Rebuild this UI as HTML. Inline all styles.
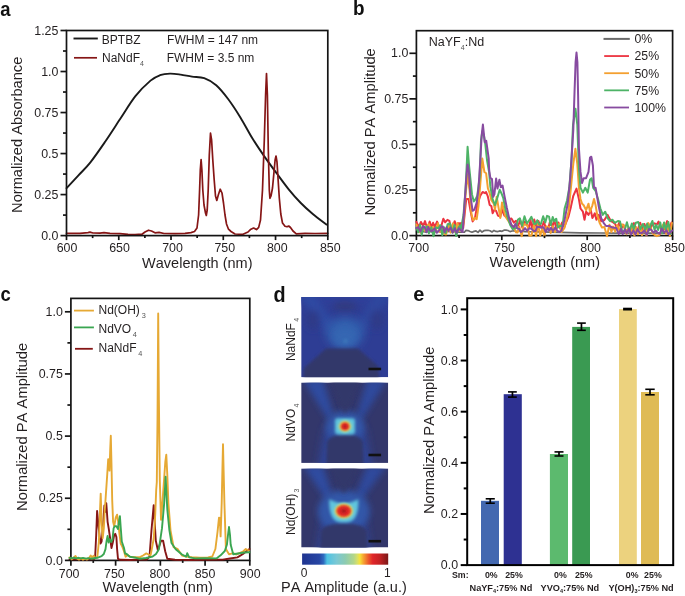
<!DOCTYPE html>
<html><head><meta charset="utf-8"><style>
html,body{margin:0;padding:0;background:#fff;}
body{width:685px;height:596px;overflow:hidden;}
svg{display:block;font-family:"Liberation Sans", sans-serif;font-kerning:none;}
text{opacity:0.999;}
</style></head><body>
<svg width="685" height="596" viewBox="0 0 685 596">
<rect width="685" height="596" fill="#fff"/>
<path d="M66.6,188.2 C68.5,186.13 74.07,180.07 78,175.8 C81.93,171.53 85.65,168.32 90.2,162.6 C94.75,156.88 100.28,148.8 105.3,141.5 C110.32,134.2 115.28,126.35 120.3,118.8 C125.32,111.25 130.37,102.57 135.4,96.2 C140.43,89.83 146.4,84.1 150.5,80.6 C154.6,77.1 156.75,76.37 160,75.2 C163.25,74.03 166.55,73.7 170,73.6 C173.45,73.5 177.03,74.1 180.7,74.6 C184.37,75.1 188.08,76.02 192,76.6 C195.92,77.18 200.17,76.67 204.2,78.1 C208.23,79.53 212.18,81.68 216.2,85.2 C220.22,88.72 224.27,93.83 228.3,99.2 C232.33,104.57 236.37,110.85 240.4,117.4 C244.43,123.95 248.48,131.97 252.5,138.5 C256.52,145.03 260.48,150.82 264.5,156.6 C268.52,162.38 272.57,167.75 276.6,173.2 C280.63,178.65 284.67,184.33 288.7,189.3 C292.73,194.27 296.78,198.88 300.8,203 C304.82,207.12 308.53,210.4 312.8,214 C317.07,217.6 324.13,222.83 326.4,224.6" fill="none" stroke="#1a1a1a" stroke-width="1.9" stroke-linejoin="round" stroke-linecap="round"/>
<path d="M66.5,233.4 L80,233.4 L88,232.6 L90,232.1 L93,233 L100,233.1 L104,232.6 L110,233.3 L120,233.6 L128,234.3 L135,234.5 L142,234.2 L145,232 L148.5,230.2 L151.5,231 L155,232.8 L159,232.3 L164,233.5 L175,233.6 L185,233.3 L191,232.6 L194.5,231.5 L197,228 L198.6,215 L199.6,190 L200.3,170 L201.1,159.6 L201.9,170 L202.8,190 L204,205 L205.5,213 L206.3,215.5 L207.2,210 L208.2,190 L209.3,155 L210.5,133.1 L211.6,140 L212.8,160 L214.2,180 L215.5,196 L216.8,200.4 L218.3,195 L220.2,189.2 L222,193 L223.5,203 L225,215 L226.5,224 L228.5,229.2 L231,231.5 L235,234 L243,234.3 L248,232 L250.4,229.6 L253.6,228 L256.5,229.6 L258.7,227.4 L260.5,220 L262.5,190 L264.3,140 L265.6,95 L266.5,73.6 L267.4,95 L268.3,150 L269.3,190 L269.9,198.3 L271,196 L272.5,188 L274,172 L275.1,160 L276,156 L277,162 L278,178 L279.3,198 L280.8,214 L282.5,223 L285,226.3 L287,226.8 L288.7,226 L290.5,227.5 L293,231 L296.3,233.8 L305,233.4 L315,233.5 L327.8,233.3" fill="none" stroke="#861616" stroke-width="1.7" stroke-linejoin="round" stroke-linecap="round"/>
<rect x="66.5" y="30.5" width="261.3" height="205.1" fill="none" stroke="#141414" stroke-width="1.7"/>
<line x1="60.5" y1="235.6" x2="66.5" y2="235.6" stroke="#141414" stroke-width="1.7" stroke-linecap="butt"/>
<text x="58.4" y="239.7" font-size="12.4" text-anchor="end" font-weight="normal" fill="#231f20">0.0</text>
<line x1="60.5" y1="194.58" x2="66.5" y2="194.58" stroke="#141414" stroke-width="1.7" stroke-linecap="butt"/>
<text x="58.4" y="198.68" font-size="12.4" text-anchor="end" font-weight="normal" fill="#231f20">0.25</text>
<line x1="60.5" y1="153.56" x2="66.5" y2="153.56" stroke="#141414" stroke-width="1.7" stroke-linecap="butt"/>
<text x="58.4" y="157.66" font-size="12.4" text-anchor="end" font-weight="normal" fill="#231f20">0.5</text>
<line x1="60.5" y1="112.54" x2="66.5" y2="112.54" stroke="#141414" stroke-width="1.7" stroke-linecap="butt"/>
<text x="58.4" y="116.64" font-size="12.4" text-anchor="end" font-weight="normal" fill="#231f20">0.75</text>
<line x1="60.5" y1="71.52" x2="66.5" y2="71.52" stroke="#141414" stroke-width="1.7" stroke-linecap="butt"/>
<text x="58.4" y="75.62" font-size="12.4" text-anchor="end" font-weight="normal" fill="#231f20">1.0</text>
<line x1="60.5" y1="30.5" x2="66.5" y2="30.5" stroke="#141414" stroke-width="1.7" stroke-linecap="butt"/>
<text x="58.4" y="34.6" font-size="12.4" text-anchor="end" font-weight="normal" fill="#231f20">1.25</text>
<line x1="63" y1="215.09" x2="66.5" y2="215.09" stroke="#141414" stroke-width="1.7" stroke-linecap="butt"/>
<line x1="63" y1="174.07" x2="66.5" y2="174.07" stroke="#141414" stroke-width="1.7" stroke-linecap="butt"/>
<line x1="63" y1="133.05" x2="66.5" y2="133.05" stroke="#141414" stroke-width="1.7" stroke-linecap="butt"/>
<line x1="63" y1="92.03" x2="66.5" y2="92.03" stroke="#141414" stroke-width="1.7" stroke-linecap="butt"/>
<line x1="63" y1="51.01" x2="66.5" y2="51.01" stroke="#141414" stroke-width="1.7" stroke-linecap="butt"/>
<line x1="66.5" y1="235.6" x2="66.5" y2="240.1" stroke="#141414" stroke-width="1.7" stroke-linecap="butt"/>
<text x="67" y="251.6" font-size="12.4" text-anchor="middle" font-weight="normal" fill="#231f20">600</text>
<line x1="118.76" y1="235.6" x2="118.76" y2="240.1" stroke="#141414" stroke-width="1.7" stroke-linecap="butt"/>
<text x="119.5" y="251.6" font-size="12.4" text-anchor="middle" font-weight="normal" fill="#231f20">650</text>
<line x1="171.02" y1="235.6" x2="171.02" y2="240.1" stroke="#141414" stroke-width="1.7" stroke-linecap="butt"/>
<text x="172.5" y="251.6" font-size="12.4" text-anchor="middle" font-weight="normal" fill="#231f20">700</text>
<line x1="223.28" y1="235.6" x2="223.28" y2="240.1" stroke="#141414" stroke-width="1.7" stroke-linecap="butt"/>
<text x="224.8" y="251.6" font-size="12.4" text-anchor="middle" font-weight="normal" fill="#231f20">750</text>
<line x1="275.54" y1="235.6" x2="275.54" y2="240.1" stroke="#141414" stroke-width="1.7" stroke-linecap="butt"/>
<text x="277.3" y="251.6" font-size="12.4" text-anchor="middle" font-weight="normal" fill="#231f20">800</text>
<line x1="327.8" y1="235.6" x2="327.8" y2="240.1" stroke="#141414" stroke-width="1.7" stroke-linecap="butt"/>
<text x="330.3" y="251.6" font-size="12.4" text-anchor="middle" font-weight="normal" fill="#231f20">850</text>
<line x1="92.63" y1="235.6" x2="92.63" y2="238.1" stroke="#141414" stroke-width="1.7" stroke-linecap="butt"/>
<line x1="144.89" y1="235.6" x2="144.89" y2="238.1" stroke="#141414" stroke-width="1.7" stroke-linecap="butt"/>
<line x1="197.15" y1="235.6" x2="197.15" y2="238.1" stroke="#141414" stroke-width="1.7" stroke-linecap="butt"/>
<line x1="249.41" y1="235.6" x2="249.41" y2="238.1" stroke="#141414" stroke-width="1.7" stroke-linecap="butt"/>
<line x1="301.67" y1="235.6" x2="301.67" y2="238.1" stroke="#141414" stroke-width="1.7" stroke-linecap="butt"/>
<text x="197.3" y="267.5" font-size="14.5" text-anchor="middle" font-weight="normal" fill="#231f20">Wavelength (nm)</text>
<text x="22" y="134.8" font-size="14.65" text-anchor="middle" font-weight="normal" fill="#231f20" transform="rotate(-90 22 134.8)">Normalized Absorbance</text>
<text x="0" y="0" font-size="21" text-anchor="start" font-weight="bold" fill="#111" transform="translate(0.3 15.6) scale(0.88 1)">a</text>
<line x1="73.5" y1="38.5" x2="97.8" y2="38.5" stroke="#1a1a1a" stroke-width="1.9" stroke-linecap="butt"/>
<text x="101.8" y="44" font-size="12" text-anchor="start" font-weight="normal" fill="#231f20">BPTBZ</text>
<text x="167.1" y="44" font-size="12" text-anchor="start" font-weight="normal" fill="#231f20">FWHM = 147 nm</text>
<line x1="74" y1="57.8" x2="97" y2="57.8" stroke="#861616" stroke-width="1.7" stroke-linecap="butt"/>
<text x="102" y="62.3" font-size="12" text-anchor="start" font-weight="normal" fill="#231f20">NaNdF<tspan font-size="7" dy="3.4" fill="#555">4</tspan></text>
<text x="166.7" y="62.1" font-size="12" text-anchor="start" font-weight="normal" fill="#231f20">FWHM = 3.5 nm</text>
<path d="M416.4,232 L420,231.62 L423,231.4 L426,232.05 L429,231.29 L432,231.9 L435,231.68 L438,231.28 L441,231.86 L444,231.25 L447,231.76 L450,231.29 L453,231.32 L456,231.75 L459,232.27 L464.4,232.2 L466,230.3 L468,230.54 L470,231.51 L472,232.27 L474,231.39 L476,230.95 L478,232.34 L480,230.11 L482,232.06 L484,230.7 L486,230.35 L488,230.28 L490,230.74 L492,231.96 L494,230.43 L496,231.4 L498,231.53 L500,230.89 L502,231.31 L504,230.15 L506,230.14 L508,230.49 L510,231.63 L512,231.03 L514,230.75 L516,231.41 L518,231.09 L520,230.72 L525,231.6 L540,231.8 L560,232.4 L580,232.8 L600,233 L620,233.1 L672,233.1" fill="none" stroke="#6a6a6a" stroke-width="1.7" stroke-linejoin="round" stroke-linecap="round"/>
<rect x="416.4" y="30.7" width="256.2" height="204.9" fill="none" stroke="#141414" stroke-width="1.7"/>
<path d="M416.4,221.82 L418.83,227.02 L420.96,221.96 L423.13,225.78 L425,221.07 L427.22,228.45 L429.69,221.65 L431.43,227.09 L433.09,222.77 L434.72,226.82 L437.07,221.56 L439.12,226.59 L440.97,227.04 L443.33,218.75 L445.14,222.25 L447.43,219.87 L449.37,220.8 L450.97,228.21 L453,226.69 L454.66,221.16 L456.51,226.5 L458.97,223.15 L460.8,225.68 L461,223 L463.2,228 L464.6,215 L466.2,199.1 L468.5,199.1 L470.3,209.7 L472.6,221.4 L475,217.9 L477.3,205 L480.3,195.6 L482.6,192 L485,193.2 L486.1,192 L487.9,196.7 L489.7,205 L491.4,206.1 L492.6,213.2 L494.4,209.7 L496.1,210.8 L497.9,215.5 L500.3,216.7 L502,209.7 L504.4,215.5 L506.7,216.7 L509.1,219.1 L511.4,218.5 L513.8,222.6 L516,220.78 L518.2,225.79 L520.14,220.21 L522.36,227.84 L524.55,221.6 L526.3,223.03 L528.64,228.33 L530.54,220.09 L532.16,229.18 L534.21,219.55 L536.67,227.34 L538.39,220.92 L540.14,225.94 L541.89,227.25 L543.87,221.46 L545.81,228.47 L548.28,228.24 L550.2,220.66 L552.41,226.63 L554.34,220.21 L556.39,228.83 L558.37,222.42 L560.36,228.64 L562.05,222.58 L564.28,226.79 L568.5,216.5 L570.9,206.9 L573.3,195.8 L576.5,188.6 L578.9,199 L580.5,208.5 L582.9,211.7 L584.5,219.7 L586.1,211.7 L588.5,214.9 L590.8,210.1 L592.4,218.1 L594.8,213.3 L596.4,219.7 L598.8,214.9 L601.2,221.2 L604.4,220 L607.6,214.9 L610.8,221 L613,222.18 L615.22,224.05 L617.02,228.09 L619.28,222.76 L621.08,228.87 L623.43,224.7 L625.28,230.52 L627.61,230.35 L629.88,230.23 L631.71,229.08 L633.99,223.14 L635.92,228.43 L637.62,230.24 L640.11,222.67 L642.38,229.79 L644.38,223.99 L646.45,228.97 L648.6,224.26 L650.64,228.13 L652.41,224.48 L654.6,223.29 L656.85,224.59 L658.57,221.61 L660.75,228.8 L663.13,230.26 L664.91,228.66 L667.16,221.11 L669.3,228.04 L671.46,222.53" fill="none" stroke="#ec3340" stroke-width="2.0" stroke-linejoin="round" stroke-linecap="round"/>
<path d="M416.4,224.4 L418.57,231.47 L420.88,232.81 L422.94,227.49 L424.87,230.81 L427.19,226.45 L428.83,224.18 L431.21,230.65 L433.11,226.98 L435.57,231.2 L437.9,223.32 L439.91,232.04 L441.95,227.33 L444.33,234.01 L446.11,234.52 L448.39,224.89 L450.65,232.64 L452.99,223.35 L455.39,232.14 L457.4,223.02 L459.35,230.92 L461,230 L463.5,222 L465.6,195 L467.6,174.3 L469.5,190 L471.5,214.4 L473.2,220.2 L475,217.9 L476.7,219.1 L478.5,206.1 L480.3,183.8 L482.3,158.6 L484.4,172 L486.1,173.2 L487.9,188.5 L489.7,193.2 L491.4,200.3 L493.8,203.8 L495,209.7 L496.7,196.7 L498.5,207.3 L500.3,217.9 L502,202.6 L503.8,209.7 L505.5,216.7 L507.9,220.2 L510.2,223.8 L513.8,227.3 L516,232.31 L517.62,232.52 L519.33,226.69 L521.73,236.3 L523.62,223.83 L525.83,224.92 L527.48,225.5 L529.36,235.77 L531.48,235.4 L533.95,224.97 L536.1,236.29 L537.98,223.72 L540.17,235.65 L542.37,228.14 L544.44,236.13 L546.5,226.38 L548.7,226.88 L550.63,233.07 L552.77,226.26 L554.97,232.05 L557.47,226.27 L559.43,223.73 L561.49,232.1 L564.6,227.6 L568.5,211.7 L570.9,187.8 L573.3,163.9 L575.4,148.8 L577.3,163.9 L578.9,187.8 L580.5,199 L582.1,203.7 L583.7,205.3 L586.1,210.1 L588.5,203.7 L590,211.7 L592.4,205.3 L594,199 L595.6,205.3 L597.2,214.9 L599.6,222.8 L602,227.6 L604.4,227 L607,236.23 L609.4,224.64 L611.38,231.93 L613.16,226.59 L615.17,231.7 L617.41,225.06 L619.67,231.55 L621.97,224.3 L624.13,225.85 L626.41,234.25 L628.61,227.3 L630.64,234.35 L632.64,226.79 L634.4,235.53 L636.17,227.23 L637.81,234.26 L640.15,225.81 L642.01,235.33 L644.1,227.19 L646.41,235.6 L648.22,222.93 L650.36,226.87 L652.83,233.44 L654.45,234.86 L656.93,236.23 L659.01,235.18 L660.93,233.23 L662.7,225.3 L664.48,222.76 L666.27,234.03 L668.02,223.48 L669.85,235.98 L671.85,223.07" fill="none" stroke="#f4a030" stroke-width="2.0" stroke-linejoin="round" stroke-linecap="round"/>
<path d="M416.4,227.83 L418.35,232.3 L420.05,224.68 L421.79,234.85 L423.51,226.19 L425.48,227.92 L427.1,226.41 L428.88,233.4 L431.34,227.32 L433.46,236.27 L435.82,227.38 L438.17,228.23 L440.43,225.2 L442.23,235.18 L444,227.31 L445.64,233.25 L447.6,224.3 L450.06,223.53 L452.37,232.48 L454.54,225.09 L456.22,236.11 L458.36,227.91 L460.32,225.21 L461,229 L463.5,215 L465.6,188.5 L467.6,146.8 L469,165 L470.3,177.9 L472,194.4 L473.8,201.4 L475.6,199.1 L477.3,195.6 L479.7,176.8 L481,140 L482.5,131 L484,136 L485.2,143.2 L487,160 L489.1,172 L490.3,186.2 L492.6,199.1 L495,205 L497.3,197.9 L499.7,189.7 L501.4,193.2 L503.2,197.9 L505.5,209.7 L507.9,217.9 L510.2,224.9 L512.6,229.1 L516.1,228 L518,219.54 L519.87,218.27 L522.12,225.79 L524.48,216.25 L526.87,223.5 L529.15,220.46 L531.41,216.74 L533.87,223.87 L535.58,224 L537.32,220.28 L538.96,224.22 L540.83,224.05 L543.17,216.3 L545.29,222.36 L547.09,215.84 L549.05,216.63 L550.71,225.14 L552.72,217.09 L554.37,221.28 L556.24,218.7 L557.88,227.57 L560.1,225.7 L562.56,226.28 L564.6,208.5 L567,200.5 L569.3,187.8 L571.5,160 L573,125 L575.5,108.8 L577.3,125 L578.9,168.7 L580.5,187.8 L582.9,192.6 L585.3,187.8 L587.7,192.6 L590,179.8 L591.6,178.2 L593.2,187.8 L595.6,191 L598,199 L600.4,208.5 L602.8,214.9 L605.2,211.7 L607.6,218.1 L610,221.2 L612.4,219.7 L614.7,222.8 L617.9,221 L620,221.57 L622.34,232.54 L624.74,229.92 L626.92,222.29 L629.39,231.38 L631.84,223.43 L633.72,229.17 L635.87,222.73 L638.23,222 L640.44,229.19 L642.92,223.92 L645.33,229.57 L647.22,223.59 L648.83,230.59 L650.78,224.51 L652.41,220.92 L654.52,229.71 L656.22,224.8 L658.07,229.96 L660.26,222.46 L662.18,233.29 L664.06,222.42 L666,229.5 L668.39,222.07 L670.38,233.88" fill="none" stroke="#4db366" stroke-width="2.0" stroke-linejoin="round" stroke-linecap="round"/>
<path d="M416.4,228.02 L418.15,227.11 L420.37,231.38 L422.63,226.57 L424.82,227.47 L426.56,232.27 L428.31,227 L429.97,230.46 L432.35,230.94 L434.6,228.3 L436.81,232.77 L439.03,230.52 L440.91,227.03 L442.67,226.4 L444.55,232.13 L446.51,227.33 L448.47,230.73 L450.48,227.51 L452.75,232.69 L454.94,228.26 L456.6,232.64 L458.99,228.34 L461,230.5 L462.6,232 L464.5,205 L466.2,179.1 L467.6,164.4 L468.9,172 L470.3,194.4 L472.6,210.8 L474.4,209.7 L476.7,202.6 L478.5,188.5 L480.3,160 L481.7,135 L482.9,124.6 L484,135 L484.7,142.2 L486.2,140.7 L488.7,158.3 L489.1,169.7 L490.3,177.9 L492,179.1 L493.2,196.7 L494.4,194.4 L496.1,178.5 L497.5,188.5 L499.4,179.7 L500.8,187.3 L502.6,185.6 L504.4,195.6 L506.7,207.3 L509.1,217.9 L511.4,224.9 L513.8,227.3 L515.5,223.8 L517.3,228.5 L519,228.64 L520.85,232.07 L523.06,230.51 L525.04,228.18 L527.09,230.78 L529.28,228.17 L531.41,228.68 L533.73,231.12 L535.47,231.11 L537.15,226.67 L539.3,226.95 L541.38,227.79 L543.48,227.22 L545.85,231.99 L547.49,228.01 L549.17,230.54 L551.02,227.82 L552.95,230.94 L555.39,227.24 L557.15,230.69 L559.09,231.84 L561.4,230.8 L564.6,219.7 L567.7,203.7 L570.1,179.8 L571.7,155.9 L573.3,130 L574.6,90 L575.6,62 L576.5,52.6 L577.4,62 L578.1,95 L578.9,148 L580.5,171.9 L582.1,183 L583.7,178.2 L586.1,178.2 L588.5,171.9 L590,157.5 L591.3,156.7 L592.9,165.5 L594,187.8 L595.6,187.8 L596.7,194.2 L598.8,206.9 L601.2,218.1 L603.6,222.8 L606,226 L609.2,226 L612.4,227.5 L616.3,228 L618.7,234 L621,228.8 L622.73,234.14 L625.04,229.32 L626.66,233.35 L629.03,228.64 L631.02,234.61 L633.36,230.37 L635.42,234.4 L637.56,229.12 L639.49,232.54 L641.94,233.15 L644.34,230.35 L646.71,234.82 L648.92,228.99 L651.23,229.76 L653.31,232.81 L655.67,230.49 L657.8,232.86 L659.95,233.82 L661.65,228.58 L664.11,232.48 L666.58,230.41 L668.29,234.12 L670.03,232.66 L672.11,230.53" fill="none" stroke="#874ba0" stroke-width="2.0" stroke-linejoin="round" stroke-linecap="round"/>
<line x1="409.4" y1="235.6" x2="416.4" y2="235.6" stroke="#141414" stroke-width="1.7" stroke-linecap="butt"/>
<text x="408.3" y="239.7" font-size="12.4" text-anchor="end" font-weight="normal" fill="#231f20">0.0</text>
<line x1="409.4" y1="190.02" x2="416.4" y2="190.02" stroke="#141414" stroke-width="1.7" stroke-linecap="butt"/>
<text x="408.3" y="194.12" font-size="12.4" text-anchor="end" font-weight="normal" fill="#231f20">0.25</text>
<line x1="409.4" y1="144.45" x2="416.4" y2="144.45" stroke="#141414" stroke-width="1.7" stroke-linecap="butt"/>
<text x="408.3" y="148.55" font-size="12.4" text-anchor="end" font-weight="normal" fill="#231f20">0.5</text>
<line x1="409.4" y1="98.87" x2="416.4" y2="98.87" stroke="#141414" stroke-width="1.7" stroke-linecap="butt"/>
<text x="408.3" y="102.97" font-size="12.4" text-anchor="end" font-weight="normal" fill="#231f20">0.75</text>
<line x1="409.4" y1="53.3" x2="416.4" y2="53.3" stroke="#141414" stroke-width="1.7" stroke-linecap="butt"/>
<text x="408.3" y="57.4" font-size="12.4" text-anchor="end" font-weight="normal" fill="#231f20">1.0</text>
<line x1="412.9" y1="212.81" x2="416.4" y2="212.81" stroke="#141414" stroke-width="1.7" stroke-linecap="butt"/>
<line x1="412.9" y1="167.24" x2="416.4" y2="167.24" stroke="#141414" stroke-width="1.7" stroke-linecap="butt"/>
<line x1="412.9" y1="121.66" x2="416.4" y2="121.66" stroke="#141414" stroke-width="1.7" stroke-linecap="butt"/>
<line x1="412.9" y1="76.09" x2="416.4" y2="76.09" stroke="#141414" stroke-width="1.7" stroke-linecap="butt"/>
<line x1="416.4" y1="235.6" x2="416.4" y2="240.1" stroke="#141414" stroke-width="1.7" stroke-linecap="butt"/>
<text x="418.7" y="251.6" font-size="12.4" text-anchor="middle" font-weight="normal" fill="#231f20">700</text>
<line x1="501.8" y1="235.6" x2="501.8" y2="240.1" stroke="#141414" stroke-width="1.7" stroke-linecap="butt"/>
<text x="504.6" y="251.6" font-size="12.4" text-anchor="middle" font-weight="normal" fill="#231f20">750</text>
<line x1="587.2" y1="235.6" x2="587.2" y2="240.1" stroke="#141414" stroke-width="1.7" stroke-linecap="butt"/>
<text x="590.6" y="251.6" font-size="12.4" text-anchor="middle" font-weight="normal" fill="#231f20">800</text>
<line x1="672.6" y1="235.6" x2="672.6" y2="240.1" stroke="#141414" stroke-width="1.7" stroke-linecap="butt"/>
<text x="674.5" y="251.6" font-size="12.4" text-anchor="middle" font-weight="normal" fill="#231f20">850</text>
<line x1="459.1" y1="235.6" x2="459.1" y2="238.1" stroke="#141414" stroke-width="1.7" stroke-linecap="butt"/>
<line x1="544.5" y1="235.6" x2="544.5" y2="238.1" stroke="#141414" stroke-width="1.7" stroke-linecap="butt"/>
<line x1="629.9" y1="235.6" x2="629.9" y2="238.1" stroke="#141414" stroke-width="1.7" stroke-linecap="butt"/>
<text x="544.8" y="266.8" font-size="14.5" text-anchor="middle" font-weight="normal" fill="#231f20">Wavelength (nm)</text>
<text x="375" y="131.9" font-size="14.7" text-anchor="middle" font-weight="normal" fill="#231f20" transform="rotate(-90 375 131.9)">Normalized PA Amplitude</text>
<text x="0" y="0" font-size="21" text-anchor="start" font-weight="bold" fill="#111" transform="translate(353 15) scale(0.9 1)">b</text>
<text x="428.8" y="46.1" font-size="12.5" text-anchor="start" font-weight="normal" fill="#231f20">NaYF<tspan font-size="7" dy="3.4" fill="#555">4</tspan><tspan dy="-3.4">:Nd</tspan></text>
<line x1="603.5" y1="38.9" x2="629.8" y2="38.9" stroke="#6a6a6a" stroke-width="2.0" stroke-linecap="butt"/>
<text x="634.5" y="43.2" font-size="12.3" text-anchor="start" font-weight="normal" fill="#231f20">0%</text>
<line x1="604.2" y1="56.05" x2="629" y2="56.05" stroke="#ec3340" stroke-width="1.8" stroke-linecap="butt"/>
<text x="634.5" y="60.35" font-size="12.3" text-anchor="start" font-weight="normal" fill="#231f20">25%</text>
<line x1="604.2" y1="73.2" x2="629" y2="73.2" stroke="#f4a030" stroke-width="1.8" stroke-linecap="butt"/>
<text x="634.5" y="77.5" font-size="12.3" text-anchor="start" font-weight="normal" fill="#231f20">50%</text>
<line x1="604.2" y1="90.35" x2="629" y2="90.35" stroke="#4db366" stroke-width="1.8" stroke-linecap="butt"/>
<text x="634.5" y="94.65" font-size="12.3" text-anchor="start" font-weight="normal" fill="#231f20">75%</text>
<line x1="604.2" y1="107.5" x2="629" y2="107.5" stroke="#874ba0" stroke-width="1.8" stroke-linecap="butt"/>
<text x="634.5" y="111.8" font-size="12.3" text-anchor="start" font-weight="normal" fill="#231f20">100%</text>
<rect x="70.9" y="298.4" width="178.9" height="262" fill="none" stroke="#141414" stroke-width="1.7"/>
<path d="M69.5,559.2 L80,559.3 L90,559.2 L94,559.2 L95.1,557.8 L96.2,535 L97.1,510.9 L98.6,527.3 L100.5,543.6 L101.6,541.5 L103.3,521.8 L104.4,505.5 L105.1,512 L106.3,503.3 L107.6,521.8 L108.7,528.4 L109.8,536 L111.5,548 L112.8,542.5 L114.2,534.9 L115.3,533.8 L116.4,537.1 L117.1,549.1 L118,558.9 L120.2,559.8 L130,560 L140,559.6 L147,559.5 L149.5,556.6 L151.5,530 L153.7,505.1 L155.8,540.8 L157.9,550.3 L161,540.8 L163.1,540.8 L165.2,551.3 L167.3,558.7 L175,559.8 L190,560 L205,559.8 L222.7,559.6 L230,558.5 L237.4,557.4 L243,554 L247.9,550 L249.5,549" fill="none" stroke="#861616" stroke-width="1.9" stroke-linejoin="round" stroke-linecap="round"/>
<path d="M69.5,557.5 L71.5,559.4 L73.5,557.8 L75.5,556 L77,558.5 L79,559.6 L81,558.3 L83,559.7 L85,558.6 L87,559.6 L89,558 L90.7,555.6 L92,557.4 L93.5,555.8 L95,557.6 L97.3,557.3 L98.9,541.5 L100,510.9 L100.7,493.6 L101.6,521.8 L102.7,538.2 L103.8,528.4 L104.7,510.9 L105.5,500 L107.2,475 L108.2,459.2 L109.5,470.6 L110.2,450 L110.8,435.7 L111.5,465 L112.2,500 L113.1,521.8 L114.2,526.2 L115.8,517.5 L117.1,514.7 L118.2,521.8 L119.3,532.7 L120.7,543.6 L122.4,546.9 L124,551.3 L125.6,556.7 L127.8,555.1 L130,556.7 L135,557.3 L140,557.2 L143,555.5 L146.3,553.4 L148.5,554.5 L150.5,555.5 L152,548 L153.7,538.7 L155.2,515 L156.2,490 L156.8,482 L157.5,420 L158.2,313.4 L158.9,400 L159.8,480 L161,519.8 L162.6,500 L164.2,477.8 L165.3,462 L166.3,454.7 L167.3,475 L168.4,503 L170.5,530.3 L173.6,547.1 L177.8,549.2 L182,555.5 L186.2,556.6 L192,557.2 L200,557.6 L208,557.4 L212.3,556.5 L215.4,549 L217.5,532.2 L219,517.6 L219.8,518 L220.6,536.4 L221.7,502.9 L222.4,470 L223,444.2 L223.6,470 L224.4,502.9 L225.9,549 L229,554.3 L233.2,553.2 L236,554.5 L239.5,553.2 L243,551.5 L245.8,549 L248.9,550.5" fill="none" stroke="#e6a934" stroke-width="1.9" stroke-linejoin="round" stroke-linecap="round"/>
<path d="M69.5,557.9 L72,558.3 L74,557.6 L76,558.4 L78,557.8 L80.9,558.4 L83,557.9 L86,558.6 L88,558.1 L91.8,558.7 L94,558.2 L97.3,557.8 L101.6,556.2 L103.8,554 L105.5,549.1 L106.5,541.5 L107.6,536 L108.7,542.5 L109.8,539.3 L111.2,542 L112.5,539.3 L113.6,528.4 L114.7,526.2 L116.4,526.2 L118,528.9 L118.9,521.8 L119.9,516.1 L120.7,527.3 L121.8,541.5 L122.9,544.7 L124,548 L125.1,553.5 L126.7,554 L128.4,555.6 L130,556.7 L132.1,557.1 L136,557.8 L140,558.8 L146,558 L152.6,556.6 L156,554 L158.9,549.2 L162,528.2 L164.2,503 L165.6,476.8 L167.3,509.3 L169.4,530.3 L171.5,543 L175.7,549.2 L182,554.5 L186.2,556.6 L187.2,553.2 L189.2,557.4 L195,558.4 L205,558.2 L216.4,558.4 L220.6,555.3 L224.8,551 L226.9,544.8 L228,535 L229,527 L230,535 L230.7,544.8 L233.2,554.3 L239.5,553.2 L244,552.5 L249.5,552.2" fill="none" stroke="#3aa651" stroke-width="1.9" stroke-linejoin="round" stroke-linecap="round"/>
<line x1="64.9" y1="560.4" x2="70.9" y2="560.4" stroke="#141414" stroke-width="1.7" stroke-linecap="butt"/>
<text x="62.8" y="564.5" font-size="12.4" text-anchor="end" font-weight="normal" fill="#231f20">0.0</text>
<line x1="64.9" y1="498.25" x2="70.9" y2="498.25" stroke="#141414" stroke-width="1.7" stroke-linecap="butt"/>
<text x="62.8" y="502.35" font-size="12.4" text-anchor="end" font-weight="normal" fill="#231f20">0.25</text>
<line x1="64.9" y1="436.1" x2="70.9" y2="436.1" stroke="#141414" stroke-width="1.7" stroke-linecap="butt"/>
<text x="62.8" y="440.2" font-size="12.4" text-anchor="end" font-weight="normal" fill="#231f20">0.5</text>
<line x1="64.9" y1="373.95" x2="70.9" y2="373.95" stroke="#141414" stroke-width="1.7" stroke-linecap="butt"/>
<text x="62.8" y="378.05" font-size="12.4" text-anchor="end" font-weight="normal" fill="#231f20">0.75</text>
<line x1="64.9" y1="311.8" x2="70.9" y2="311.8" stroke="#141414" stroke-width="1.7" stroke-linecap="butt"/>
<text x="62.8" y="315.9" font-size="12.4" text-anchor="end" font-weight="normal" fill="#231f20">1.0</text>
<line x1="67.4" y1="529.32" x2="70.9" y2="529.32" stroke="#141414" stroke-width="1.7" stroke-linecap="butt"/>
<line x1="67.4" y1="467.17" x2="70.9" y2="467.17" stroke="#141414" stroke-width="1.7" stroke-linecap="butt"/>
<line x1="67.4" y1="405.02" x2="70.9" y2="405.02" stroke="#141414" stroke-width="1.7" stroke-linecap="butt"/>
<line x1="67.4" y1="342.88" x2="70.9" y2="342.88" stroke="#141414" stroke-width="1.7" stroke-linecap="butt"/>
<line x1="70.9" y1="560.4" x2="70.9" y2="565.7" stroke="#141414" stroke-width="1.7" stroke-linecap="butt"/>
<text x="69.1" y="578" font-size="12.4" text-anchor="middle" font-weight="normal" fill="#231f20">700</text>
<line x1="115.62" y1="560.4" x2="115.62" y2="565.7" stroke="#141414" stroke-width="1.7" stroke-linecap="butt"/>
<text x="114.4" y="578" font-size="12.4" text-anchor="middle" font-weight="normal" fill="#231f20">750</text>
<line x1="160.35" y1="560.4" x2="160.35" y2="565.7" stroke="#141414" stroke-width="1.7" stroke-linecap="butt"/>
<text x="159.8" y="578" font-size="12.4" text-anchor="middle" font-weight="normal" fill="#231f20">800</text>
<line x1="205.08" y1="560.4" x2="205.08" y2="565.7" stroke="#141414" stroke-width="1.7" stroke-linecap="butt"/>
<text x="205" y="578" font-size="12.4" text-anchor="middle" font-weight="normal" fill="#231f20">850</text>
<line x1="249.8" y1="560.4" x2="249.8" y2="565.7" stroke="#141414" stroke-width="1.7" stroke-linecap="butt"/>
<text x="250.2" y="578" font-size="12.4" text-anchor="middle" font-weight="normal" fill="#231f20">900</text>
<line x1="93.26" y1="560.4" x2="93.26" y2="562.9" stroke="#141414" stroke-width="1.7" stroke-linecap="butt"/>
<line x1="137.99" y1="560.4" x2="137.99" y2="562.9" stroke="#141414" stroke-width="1.7" stroke-linecap="butt"/>
<line x1="182.71" y1="560.4" x2="182.71" y2="562.9" stroke="#141414" stroke-width="1.7" stroke-linecap="butt"/>
<line x1="227.44" y1="560.4" x2="227.44" y2="562.9" stroke="#141414" stroke-width="1.7" stroke-linecap="butt"/>
<text x="157.6" y="592.1" font-size="14.5" text-anchor="middle" font-weight="normal" fill="#231f20">Wavelength (nm)</text>
<text x="27.3" y="426.9" font-size="14.75" text-anchor="middle" font-weight="normal" fill="#231f20" transform="rotate(-90 27.3 426.9)">Normalized PA Amplitude</text>
<text x="0" y="0" font-size="21" text-anchor="start" font-weight="bold" fill="#111" transform="translate(0.6 301.3) scale(0.88 1)">c</text>
<line x1="74" y1="310.6" x2="93.9" y2="310.6" stroke="#e6a934" stroke-width="1.8" stroke-linecap="butt"/>
<line x1="74" y1="327.4" x2="93.9" y2="327.4" stroke="#3aa651" stroke-width="1.8" stroke-linecap="butt"/>
<line x1="75" y1="348.8" x2="92.8" y2="348.8" stroke="#861616" stroke-width="1.8" stroke-linecap="butt"/>
<text x="98.5" y="314.1" font-size="12" text-anchor="start" font-weight="normal" fill="#231f20">Nd(OH)<tspan font-size="7.3" dx="1.8" dy="4.1" fill="#555">3</tspan></text>
<text x="98.5" y="333.2" font-size="12" text-anchor="start" font-weight="normal" fill="#231f20">NdVO<tspan font-size="7.3" dx="1.6" dy="4.1" fill="#555">4</tspan></text>
<text x="98.5" y="352.4" font-size="12" text-anchor="start" font-weight="normal" fill="#231f20">NaNdF<tspan font-size="7.3" dx="1.8" dy="3.6" fill="#555">4</tspan></text>
<text x="0" y="0" font-size="21.3" text-anchor="start" font-weight="bold" fill="#111" transform="translate(273.6 301.5) scale(0.93 1)">d</text>
<defs>
<filter id="b2" x="-50%" y="-50%" width="200%" height="200%"><feGaussianBlur stdDeviation="2.2"/></filter>
<filter id="b4" x="-50%" y="-50%" width="200%" height="200%"><feGaussianBlur stdDeviation="4"/></filter>
<filter id="b1" x="-50%" y="-50%" width="200%" height="200%"><feGaussianBlur stdDeviation="1.2"/></filter>
<filter id="b08" x="-50%" y="-50%" width="200%" height="200%"><feGaussianBlur stdDeviation="0.8"/></filter>
<filter id="b15" x="-50%" y="-50%" width="200%" height="200%"><feGaussianBlur stdDeviation="1.6"/></filter>
<filter id="b3" x="-50%" y="-50%" width="200%" height="200%"><feGaussianBlur stdDeviation="3"/></filter>
<linearGradient id="cbar" x1="0" x2="1" y1="0" y2="0">
<stop offset="0" stop-color="#1f3490"/>
<stop offset="0.2" stop-color="#2746a4"/>
<stop offset="0.25" stop-color="#2f6cc0"/>
<stop offset="0.29" stop-color="#4ec3e3"/>
<stop offset="0.4" stop-color="#7bc8d4"/>
<stop offset="0.5" stop-color="#8ccbb2"/>
<stop offset="0.6" stop-color="#b2d68a"/>
<stop offset="0.64" stop-color="#d6df6a"/>
<stop offset="0.67" stop-color="#f6e23a"/>
<stop offset="0.71" stop-color="#f6a632"/>
<stop offset="0.77" stop-color="#ec5a2c"/>
<stop offset="0.82" stop-color="#e0262a"/>
<stop offset="0.9" stop-color="#c42224"/>
<stop offset="1" stop-color="#7c1818"/>
</linearGradient>
<clipPath id="c1"><rect x="301.2" y="297.0" width="87" height="80.3"/></clipPath>
<clipPath id="c2"><rect x="301.2" y="382.6" width="87" height="80.3"/></clipPath>
<clipPath id="c3"><rect x="301.2" y="468.5" width="87" height="79"/></clipPath>
</defs>
<g clip-path="url(#c1)">
<rect x="301.2" y="297.0" width="87" height="80.3" fill="#2e3d94"/>
<g filter="url(#b3)">
<rect x="296" y="293.0" width="97" height="11" fill="#2f409a"/>
<path d="M299,295.0 L314,295.0 L337,326 L326,332 Z" fill="#2e4aa2"/>
<path d="M391,295.0 L376,295.0 L353,326 L364,332 Z" fill="#2e479e"/>
<ellipse cx="313" cy="320" rx="7" ry="10" fill="#2f3a88"/>
<ellipse cx="377" cy="320" rx="7" ry="10" fill="#2f3a88"/>
<ellipse cx="345" cy="306" rx="12" ry="5" fill="#313b80"/>
</g>
<ellipse cx="345" cy="333" rx="19" ry="16" fill="#325fae" filter="url(#b4)"/>
<ellipse cx="345" cy="337" rx="11" ry="10" fill="#3566b2" filter="url(#b3)"/>
<path d="M303,384 L304,368 L326,348.5 L358,348.5 L378,366 L380,384 Z" fill="#33376b" filter="url(#b15)"/>
<ellipse cx="345.5" cy="341" rx="2.5" ry="2.5" fill="#3a72b8" filter="url(#b1)"/>
</g>
<g clip-path="url(#c2)">
<rect x="301.2" y="382.6" width="87" height="80.3" fill="#33376b"/>
<g filter="url(#b3)">
<path d="M303,379.6 L323,379.6 L334.0,416.9 L328.0,419.75 Z" fill="#2f4ba0"/>
<path d="M387,379.6 L367,379.6 L356.0,416.9 L362.0,419.75 Z" fill="#2e489c"/>
</g>
<path d="M318.0,468.9 L325.0,428.4 Q345.0,407.4 365.0,428.4 L372.0,468.9 Z" fill="#2f4598" filter="url(#b4)"/>
<ellipse cx="345.0" cy="426.4" rx="19.2" ry="15.35" fill="#3256a8" filter="url(#b3)"/>
<path d="M326.0,468.9 L327.0,442.47499999999997 Q329.0,434.47499999999997 345.0,434.47499999999997 Q361.0,434.47499999999997 363.0,442.47499999999997 L364.0,468.9 Z" fill="#33376b" filter="url(#b15)"/>
<path d="M329.0,379.6 L361.0,379.6 L345.0,415.0 Z" fill="#33376b" filter="url(#b2)"/>
<path d="M335.025,420.22999999999996 Q335.025,418.22999999999996 338.025,418.22999999999996 L351.975,418.22999999999996 Q354.975,418.22999999999996 354.975,420.22999999999996 L354.975,431.57 Q354.975,434.57 350.975,434.57 L339.025,434.57 Q335.025,434.57 335.025,431.57 Z" fill="#60c6de" filter="url(#b15)"/>
<ellipse cx="345.0" cy="426.4" rx="7.3" ry="6.6" fill="#86cbbe" filter="url(#b1)"/>
<ellipse cx="345.0" cy="426.4" rx="5.6" ry="5.1" fill="#d2dc6c" filter="url(#b08)"/>
<ellipse cx="345.0" cy="426.4" rx="4.6" ry="4.2" fill="#ee8a30" filter="url(#b08)"/>
<ellipse cx="345.0" cy="426.4" rx="3.6999999999999997" ry="3.4" fill="#de2727" filter="url(#b08)"/>
<ellipse cx="345.0" cy="426.4" rx="1.365" ry="1.26" fill="#a81c1c" filter="url(#b1)"/>
</g>
<g clip-path="url(#c3)">
<rect x="301.2" y="468.5" width="87" height="79" fill="#33376b"/>
<g filter="url(#b3)">
<path d="M303,465.5 L323,465.5 L332.8,497.2 L326.8,501.34 Z" fill="#2f4ba0"/>
<path d="M387,465.5 L367,465.5 L354.8,497.2 L360.8,501.34 Z" fill="#2e489c"/>
</g>
<path d="M316.8,553.5 L323.8,513.0 Q343.8,483.4 363.8,513.0 L370.8,553.5 Z" fill="#2f4598" filter="url(#b4)"/>
<ellipse cx="343.8" cy="511.0" rx="26.08" ry="20.939999999999998" fill="#3256a8" filter="url(#b3)"/>
<path d="M319.8,553.5 L320.8,531.42 Q322.8,523.42 343.8,523.42 Q364.8,523.42 366.8,531.42 L367.8,553.5 Z" fill="#33376b" filter="url(#b15)"/>
<path d="M327.8,465.5 L359.8,465.5 L343.8,494.44 Z" fill="#33376b" filter="url(#b2)"/>
<path d="M329.31,499.132 Q343.8,507.412 358.29,499.132 Q359.29,524.0548 343.8,522.2746 Q328.31,524.0548 329.31,499.132 Z" fill="#60c6de" filter="url(#b15)"/>
<ellipse cx="343.8" cy="511.0" rx="10.4" ry="8.6" fill="#86cbbe" filter="url(#b1)"/>
<ellipse cx="343.8" cy="511.0" rx="8.7" ry="7.1" fill="#d2dc6c" filter="url(#b08)"/>
<ellipse cx="343.8" cy="511.0" rx="7.7" ry="6.199999999999999" fill="#ee8a30" filter="url(#b08)"/>
<ellipse cx="343.8" cy="511.0" rx="6.8" ry="5.3999999999999995" fill="#de2727" filter="url(#b08)"/>
<ellipse cx="343.8" cy="511.0" rx="2.4499999999999997" ry="1.9599999999999997" fill="#a81c1c" filter="url(#b1)"/>
</g>
<rect x="368.5" y="367.7" width="12.6" height="2.6" fill="#111"/>
<rect x="368.5" y="453.7" width="12.6" height="2.6" fill="#111"/>
<rect x="368.5" y="539.9" width="12.6" height="2.6" fill="#111"/>
<text x="295.1" y="339.5" font-size="12" text-anchor="middle" font-weight="normal" fill="#231f20" transform="rotate(-90 295.1 339.5)">NaNdF<tspan font-size="7" dx="1.2" dy="3.8" fill="#555">4</tspan></text>
<text x="295.1" y="422.5" font-size="12" text-anchor="middle" font-weight="normal" fill="#231f20" transform="rotate(-90 295.1 422.5)">NdVO<tspan font-size="7" dx="1.2" dy="3.8" fill="#555">4</tspan></text>
<text x="295.1" y="511.8" font-size="12" text-anchor="middle" font-weight="normal" fill="#231f20" transform="rotate(-90 295.1 511.8)">Nd(OH)<tspan font-size="7" dx="1.2" dy="3.8" fill="#555">3</tspan></text>
<rect x="302.1" y="553.5" width="86.1" height="11.2" fill="url(#cbar)"/>
<text x="304" y="577.3" font-size="12" text-anchor="middle" font-weight="normal" fill="#231f20">0</text>
<text x="387.3" y="577.3" font-size="12" text-anchor="middle" font-weight="normal" fill="#231f20">1</text>
<text x="343.9" y="592.2" font-size="14.5" text-anchor="middle" font-weight="normal" fill="#231f20">PA Amplitude (a.u.)</text>
<rect x="481" y="500.8" width="18" height="64.3" fill="#4368b0"/>
<rect x="503.7" y="394.2" width="18.1" height="170.9" fill="#2e3192"/>
<rect x="549.9" y="454" width="18.1" height="111.1" fill="#5cba6e"/>
<rect x="572.2" y="326.9" width="17.8" height="238.2" fill="#3a9a52"/>
<rect x="619" y="309.1" width="17.8" height="256" fill="#ecd27e"/>
<rect x="641" y="392" width="18" height="173.1" fill="#dfbb55"/>
<line x1="490.25" y1="498.8" x2="490.25" y2="503.2" stroke="#000" stroke-width="1.7" stroke-linecap="butt"/>
<line x1="485.7" y1="498.8" x2="494.8" y2="498.8" stroke="#000" stroke-width="1.6" stroke-linecap="butt"/>
<line x1="485.7" y1="503.2" x2="494.8" y2="503.2" stroke="#000" stroke-width="1.6" stroke-linecap="butt"/>
<line x1="512.45" y1="391.9" x2="512.45" y2="397.1" stroke="#000" stroke-width="1.7" stroke-linecap="butt"/>
<line x1="508.1" y1="391.9" x2="516.8" y2="391.9" stroke="#000" stroke-width="1.6" stroke-linecap="butt"/>
<line x1="508.1" y1="397.1" x2="516.8" y2="397.1" stroke="#000" stroke-width="1.6" stroke-linecap="butt"/>
<line x1="559" y1="451.9" x2="559" y2="456" stroke="#000" stroke-width="1.7" stroke-linecap="butt"/>
<line x1="554.5" y1="451.9" x2="563.5" y2="451.9" stroke="#000" stroke-width="1.6" stroke-linecap="butt"/>
<line x1="554.5" y1="456" x2="563.5" y2="456" stroke="#000" stroke-width="1.6" stroke-linecap="butt"/>
<line x1="581.45" y1="323.1" x2="581.45" y2="330.3" stroke="#000" stroke-width="1.7" stroke-linecap="butt"/>
<line x1="577.1" y1="323.1" x2="585.8" y2="323.1" stroke="#000" stroke-width="1.6" stroke-linecap="butt"/>
<line x1="577.1" y1="330.3" x2="585.8" y2="330.3" stroke="#000" stroke-width="1.6" stroke-linecap="butt"/>
<line x1="627.55" y1="308.5" x2="627.55" y2="309.7" stroke="#000" stroke-width="1.7" stroke-linecap="butt"/>
<line x1="623.1" y1="308.5" x2="632" y2="308.5" stroke="#000" stroke-width="1.6" stroke-linecap="butt"/>
<line x1="623.1" y1="309.7" x2="632" y2="309.7" stroke="#000" stroke-width="1.6" stroke-linecap="butt"/>
<line x1="650" y1="389.3" x2="650" y2="394.8" stroke="#000" stroke-width="1.7" stroke-linecap="butt"/>
<line x1="645.3" y1="389.3" x2="654.7" y2="389.3" stroke="#000" stroke-width="1.6" stroke-linecap="butt"/>
<line x1="645.3" y1="394.8" x2="654.7" y2="394.8" stroke="#000" stroke-width="1.6" stroke-linecap="butt"/>
<rect x="467.2" y="298.2" width="206" height="266.9" fill="none" stroke="#000" stroke-width="2.0"/>
<line x1="460.7" y1="565.1" x2="467.2" y2="565.1" stroke="#000" stroke-width="2.0" stroke-linecap="butt"/>
<text x="458.1" y="569.3" font-size="12.4" text-anchor="end" font-weight="normal" fill="#231f20">0.0</text>
<line x1="460.7" y1="513.96" x2="467.2" y2="513.96" stroke="#000" stroke-width="2.0" stroke-linecap="butt"/>
<text x="458.1" y="518.16" font-size="12.4" text-anchor="end" font-weight="normal" fill="#231f20">0.2</text>
<line x1="460.7" y1="462.82" x2="467.2" y2="462.82" stroke="#000" stroke-width="2.0" stroke-linecap="butt"/>
<text x="458.1" y="467.02" font-size="12.4" text-anchor="end" font-weight="normal" fill="#231f20">0.4</text>
<line x1="460.7" y1="411.68" x2="467.2" y2="411.68" stroke="#000" stroke-width="2.0" stroke-linecap="butt"/>
<text x="458.1" y="415.88" font-size="12.4" text-anchor="end" font-weight="normal" fill="#231f20">0.6</text>
<line x1="460.7" y1="360.54" x2="467.2" y2="360.54" stroke="#000" stroke-width="2.0" stroke-linecap="butt"/>
<text x="458.1" y="364.74" font-size="12.4" text-anchor="end" font-weight="normal" fill="#231f20">0.8</text>
<line x1="460.7" y1="309.4" x2="467.2" y2="309.4" stroke="#000" stroke-width="2.0" stroke-linecap="butt"/>
<text x="458.1" y="313.6" font-size="12.4" text-anchor="end" font-weight="normal" fill="#231f20">1.0</text>
<line x1="463.7" y1="539.53" x2="467.2" y2="539.53" stroke="#000" stroke-width="2.0" stroke-linecap="butt"/>
<line x1="463.7" y1="488.39" x2="467.2" y2="488.39" stroke="#000" stroke-width="2.0" stroke-linecap="butt"/>
<line x1="463.7" y1="437.25" x2="467.2" y2="437.25" stroke="#000" stroke-width="2.0" stroke-linecap="butt"/>
<line x1="463.7" y1="386.11" x2="467.2" y2="386.11" stroke="#000" stroke-width="2.0" stroke-linecap="butt"/>
<line x1="463.7" y1="334.97" x2="467.2" y2="334.97" stroke="#000" stroke-width="2.0" stroke-linecap="butt"/>
<text x="434.2" y="430.3" font-size="14.7" text-anchor="middle" font-weight="normal" fill="#231f20" transform="rotate(-90 434.2 430.3)">Normalized PA Amplitude</text>
<text x="0" y="0" font-size="21" text-anchor="start" font-weight="bold" fill="#111" transform="translate(413.3 301.1) scale(0.95 1)">e</text>
<text x="452" y="577.8" font-size="8.8" text-anchor="start" font-weight="bold" fill="#231f20">Sm:</text>
<text x="491.3" y="577.8" font-size="8.8" text-anchor="middle" font-weight="bold" fill="#231f20">0%</text>
<text x="514" y="577.8" font-size="8.8" text-anchor="middle" font-weight="bold" fill="#231f20">25%</text>
<text x="560.4" y="577.8" font-size="8.8" text-anchor="middle" font-weight="bold" fill="#231f20">0%</text>
<text x="583.7" y="577.8" font-size="8.8" text-anchor="middle" font-weight="bold" fill="#231f20">25%</text>
<text x="632.2" y="577.8" font-size="8.8" text-anchor="middle" font-weight="bold" fill="#231f20">0%</text>
<text x="652.9" y="577.8" font-size="8.8" text-anchor="middle" font-weight="bold" fill="#231f20">25%</text>
<text x="469.5" y="591.2" font-size="9.2" text-anchor="start" font-weight="bold" fill="#231f20">NaYF<tspan font-size="5.5" dy="2.2">4</tspan><tspan dy="-2.2">:75% Nd</tspan></text>
<text x="540.5" y="591.2" font-size="9.2" text-anchor="start" font-weight="bold" fill="#231f20">YVO<tspan font-size="5.5" dy="2.2">4</tspan><tspan dy="-2.2">:75% Nd</tspan></text>
<text x="608.4" y="591.2" font-size="9.2" text-anchor="start" font-weight="bold" fill="#231f20">Y(OH)<tspan font-size="5.5" dy="2.2">3</tspan><tspan dy="-2.2">:75% Nd</tspan></text>
</svg>
</body></html>
